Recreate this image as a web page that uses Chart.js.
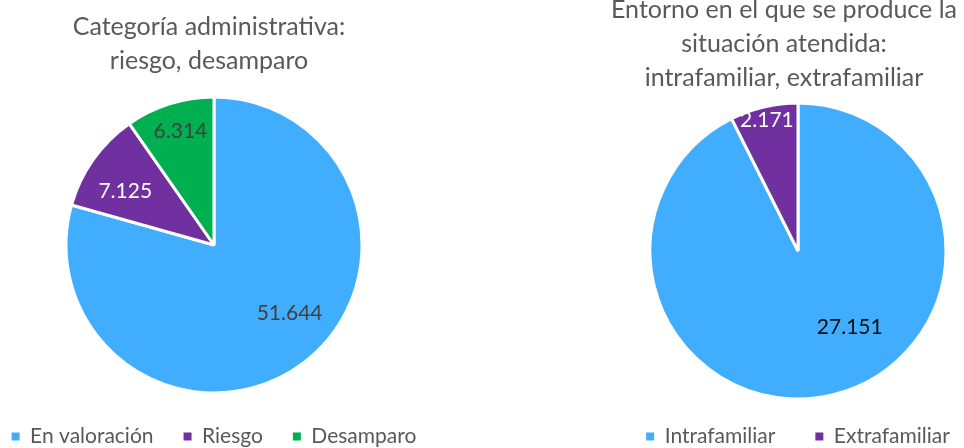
<!DOCTYPE html>
<html>
<head>
<meta charset="utf-8">
<script src="https://cdn.jsdelivr.net/npm/chart.js@4.4.1/dist/chart.umd.min.js"></script>
<style>
  html, body { margin: 0; padding: 0; background: #fff; }
  body { width: 964px; height: 448px; overflow: hidden; position: relative; }
  .box { position: absolute; }
  #leftBox { left: -40px; top: 0; width: 508px; height: 457px; }
  #rightBox { left: 600px; top: -20px; width: 396px; height: 477px; }
</style>
</head>
<body>
<div class="box" id="leftBox"><canvas id="adminChart"></canvas></div>
<div class="box" id="rightBox"><canvas id="entornoChart"></canvas></div>
<script>
    const adminTitle = ['Categoría administrativa:', 'riesgo, desamparo'];
    const adminLabels = ['En valoración', 'Riesgo', 'Desamparo'];
    const adminValues = [51644, 7125, 6314];

    const entornoTitle = ['Entorno en el que se produce la', 'situación atendida:', 'intrafamiliar, extrafamiliar'];
    const entornoLabels = ['Intrafamiliar', 'Extrafamiliar'];
    const entornoValues = [27151, 2171];

    const BLUE = '#41ADFF', PURPLE = '#7030A0', GREEN = '#00B050';
    const GREY = '#595959';
    const FONT = 'Lato, sans-serif';

    // 51644 -> "51.644"
    const fmt = v => String(v).replace(/\B(?=(\d{3})+(?!\d))/g, '.');

    // value labels inside the slices + small sideways nudge of the title
    const sliceLabels = {
        id: 'sliceLabels',
        afterLayout(chart, args, opts) {
            if (opts.titleShift && chart.titleBlock) {
                chart.titleBlock.left += opts.titleShift;
                chart.titleBlock.right += opts.titleShift;
            }
        },
        afterDatasetsDraw(chart, args, opts) {
            const ctx = chart.ctx;
            const arcs = chart.getDatasetMeta(0).data;
            const values = chart.data.datasets[0].data;
            ctx.save();
            ctx.font = '21px ' + FONT;
            ctx.textAlign = 'center';
            ctx.textBaseline = 'middle';
            arcs.forEach((arc, i) => {
                const p = arc.getProps(['x', 'y', 'startAngle', 'endAngle', 'outerRadius']);
                const a = (p.startAngle + p.endAngle) / 2 + opts.nudge[i] * Math.PI / 180;
                const r = p.outerRadius * opts.dist[i];
                ctx.fillStyle = opts.colors[i];
                ctx.fillText(fmt(values[i]), p.x + Math.cos(a) * r, p.y + Math.sin(a) * r);
            });
            ctx.restore();
        }
    };

    function legendItems(chart) {
        return Chart.overrides.doughnut.plugins.legend.labels.generateLabels(chart)
            .map(l => ({ ...l, strokeStyle: l.fillStyle, lineWidth: 0 }));
    }

    function makePie(id, title, labels, values, colors, opt) {
        const ctx = document.getElementById(id).getContext('2d');
        return new Chart(ctx, {
            type: 'pie',
            data: {
                labels: labels,
                datasets: [{
                    data: values,
                    backgroundColor: colors,
                    borderColor: '#ffffff',
                    borderWidth: 3,
                    radius: 148
                }]
            },
            options: {
                responsive: true,
                maintainAspectRatio: false,
                animation: false,
                events: [],
                layout: { padding: 0 },
                plugins: {
                    title: {
                        display: true,
                        text: title,
                        color: GREY,
                        font: { family: FONT, size: 25, weight: '400', lineHeight: 1.36 },
                        padding: { top: opt.titleTop, bottom: opt.titleBottom }
                    },
                    legend: {
                        position: 'bottom',
                        labels: {
                            color: GREY,
                            boxWidth: 8,
                            boxHeight: 8,
                            padding: opt.legendGap,
                            font: { family: FONT, size: 21 },
                            generateLabels: legendItems
                        }
                    },
                    tooltip: { enabled: false },
                    sliceLabels: {
                        titleShift: opt.titleShift,
                        colors: opt.labelColors,
                        nudge: opt.nudge,
                        dist: opt.dist
                    }
                }
            },
            plugins: [sliceLabels]
        });
    }

    makePie('adminChart', adminTitle, adminLabels, adminValues, [BLUE, PURPLE, GREEN], {
        titleTop: 10, titleBottom: 16, legendGap: 30, titleShift: -5,
        labelColors: ['#404040', '#ffffff', '#404040'],
        nudge: [-10.6, -4.3, 1], dist: [0.69, 0.70, 0.80]
    });

    makePie('entornoChart', entornoTitle, entornoLabels, entornoValues, [BLUE, PURPLE], {
        titleTop: 13, titleBottom: 21, legendGap: 40, titleShift: -14,
        labelColors: ['#0d0d0d', '#ffffff'],
        nudge: [-21, 0], dist: [0.62, 0.91]
    });
</script>
</body>
</html>
